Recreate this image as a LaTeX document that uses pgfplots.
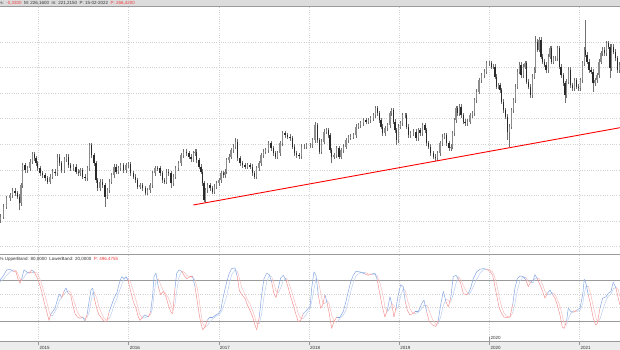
\documentclass[border=0pt]{standalone}
\usepackage{pgfplots}
\pgfplotsset{compat=1.18}
\usepackage{pgfplotstable}
\usepackage{fontspec}
\setmainfont{Liberation Sans}
\definecolor{wick}{HTML}{707070}
\definecolor{upbody}{HTML}{8C8C8C}
\definecolor{dnbody}{HTML}{2A2A2A}
\definecolor{sepgray}{HTML}{9A9A9A}
\definecolor{gridc}{HTML}{D2D2D2}
\definecolor{hdrbg}{HTML}{DCDCDC}
\definecolor{stripbg}{HTML}{EDEDED}
\definecolor{hdrtxt}{HTML}{333333}
\definecolor{txtred}{HTML}{F03C3C}
\definecolor{stred}{HTML}{F59494}
\definecolor{stblue}{HTML}{86A6E2}
\definecolor{stredl}{HTML}{F8C0C0}
\definecolor{stbluel}{HTML}{BCCFF0}

\pgfplotstableread{
x o h l c
0 80 85.8 77.5 83.3
3.3 83.3 95.8 80.8 93.3
6.7 93.3 104.5 90.8 102
10 102 107.5 99.5 105
12.7 105 111.8 102.5 109.3
15 109.3 111.8 104.2 106.7
17.3 106.7 109.2 100.8 103.3
19.3 103.3 105.8 90 97
21 97 117.5 94.5 115
22.7 115 137.5 112.5 135
25 135 137.5 127.5 130
27.3 130 134.5 127.5 132
30 132 140.8 129.5 138.3
32.3 138.3 148.5 135.8 146
34.3 146 148.5 139.5 142
36 142 144.5 134.2 136.7
37.7 136.7 139.2 129.5 132
40 132 134.5 124.5 127
42.7 127 129.5 122.5 125
45 125 127.5 119.5 122
47.3 122 124.5 115.8 118.3
50 118.3 125.8 115.8 123.3
52.7 123.3 130.8 120.8 128.3
55 128.3 130.8 124.2 126.7
57.3 126.7 145.8 124.2 143.3
59.3 143.3 145.8 134.5 137
61.7 137 139.5 127.5 130
64.3 130 143.5 127.5 141
66.7 141 145.8 138.5 143.3
68.3 143.3 145.8 132.5 135
70.7 135 137.5 129.5 132
73.3 132 135.8 129.5 133.3
76 133.3 135.8 125.8 128.3
78.3 128.3 130.8 124.2 126.7
80 126.7 132.5 124.2 130
82.7 130 132.5 120.8 123.3
85 123.3 125.8 119.5 122
87.3 122 134.5 119.5 132
89.3 132 157 129.5 155
91.7 155 157.5 142.5 145
94 145 147.5 134.5 137
96 137 139.5 117.5 120
97.7 120 122.5 109.5 112
100 112 120.8 109.5 118.3
102.7 118.3 120.8 112.5 115
105 115 117.5 93.3 103.3
107.3 103.3 112.5 100.8 110
109.3 110 120.8 107.5 118.3
111.7 118.3 127.5 115.8 125
114 125 135.8 122.5 133.3
116 133.3 135.8 125.8 128.3
118.3 128.3 134.5 125.8 132
120.7 132 137.5 129.5 135
123.3 135 137.5 127.5 130
126 130 137.5 127.5 135
128.3 135 138.5 132.5 136
130.7 136 138.5 124.5 127
133.3 127 129.5 120.8 123.3
135.7 123.3 125.8 117.5 120
137.3 120 122.5 110.8 113.3
140 113.3 117.5 110.8 115
142.7 115 117.5 109.5 112
145.3 112 114.5 104.8 107.3
147.3 107.3 112.5 104.8 110
150 110 117.5 107.5 115
152.7 115 129.5 112.5 127
155 127 134.5 124.5 132
157.7 132 134.5 129.2 131.7
160 131.7 134.2 124.5 127
162.3 127 129.5 117.5 120
164.3 120 122.5 115.8 118.3
166.7 118.3 130.8 115.8 128.3
168.3 128.3 130.8 124.2 126.7
171 126.7 129.2 112 116.7
173.3 116.7 125.8 114.2 123.3
175.7 123.3 134.2 120.8 131.7
178.3 131.7 139.2 129.2 136.7
181 136.7 147.5 134.2 145
183.3 145 150.8 142.5 148.3
186.7 148.3 150.8 144.2 146.7
189 146.7 149.2 140.8 143.3
191 143.3 145.8 138.2 140.7
193.3 140.7 149.2 138.2 146.7
195 146.7 150.8 144.2 148.3
196.7 148.3 150.8 137.5 140
199 140 142.5 130.8 133.3
201 133.3 135.8 125.8 128.3
202.3 128.3 130.8 114.2 116.7
204 116.7 119.2 98.3 100
205.7 100 112.5 97.5 110
207.7 110 117.5 107.5 115
210 115 117.5 109.2 111.7
212.3 111.7 114.2 105.8 108.3
214.3 108.3 115.8 105.8 113.3
216.7 113.3 119.2 110.8 116.7
219 116.7 122.5 114.2 120
221 120 129.2 117.5 126.7
223.3 126.7 129.2 122.5 125
225 125 130.8 122.5 128.3
226.7 128.3 142.5 125.8 140
229 140 145.8 137.5 143.3
231 143.3 152.5 140.8 150
233.3 150 155.8 147.5 153.3
235.7 153.3 161.7 150.8 158.3
237.7 158.3 160.8 139.2 141.7
240 141.7 144.2 134.2 136.7
242.3 136.7 139.2 132.5 135
245 135 137.5 130.8 133.3
247.3 133.3 137.5 130.8 135
250 135 137.5 130.8 133.3
252.3 133.3 135.8 124.2 126.7
254.3 126.7 129.2 120.8 123.3
256.7 123.3 134.2 120.8 131.7
259 131.7 139.2 129.2 136.7
261 136.7 147.5 134.2 145
263.3 145 150.8 142.5 148.3
265.7 148.3 152.5 145.8 150
268.3 150 159.2 147.5 156.7
271 156.7 159.2 149.2 151.7
273.3 151.7 154.2 144.2 146.7
275.7 146.7 149.2 140.8 143.3
277.7 143.3 149.2 140.8 146.7
280 146.7 159.2 144.2 156.7
282.3 156.7 169.2 154.2 166.7
285 166.7 169.2 162.5 165
287.7 165 167.5 160.8 163.3
290 163.3 165.8 159.2 161.7
292.3 161.7 164.2 150.8 153.3
294.3 153.3 155.8 144.2 146.7
296.7 146.7 149.2 142.5 145
299 145 147.5 141.5 144
301.7 144 155.8 141.5 153.3
304 153.3 155.8 150.8 153.3
306.7 153.3 157.5 150.8 155
310 155 157.5 152.5 155
312.7 155 162.5 152.5 160
315 160 178.3 157.5 175
317.3 175 177.5 157.5 160
319.3 160 162.5 145.8 148.3
321.7 148.3 160.8 145.8 158.3
324 158.3 170.8 155.8 168.3
326.7 168.3 172.5 165.8 170
328.3 170 172.5 162.5 165
330 165 167.5 147.5 150
331.7 150 152.5 136.7 143.3
334 143.3 147.5 140.8 145
336.7 145 154.2 142.5 151.7
339 151.7 154.2 140.8 143.3
341 143.3 152.5 140.8 150
343.3 150 155.8 147.5 153.3
346 153.3 162.5 150.8 160
348.3 160 165.2 157.5 162.7
350.7 162.7 165.8 160.2 163.3
353.3 163.3 167.5 160.8 165
356 165 175.8 162.5 173.3
358.3 173.3 177.5 170.8 175
360.7 175 179.2 172.5 176.7
363.3 176.7 182.5 174.2 180
366 180 182.5 175.8 178.3
368.3 178.3 182.5 175.8 180
370.7 180 184.2 177.5 181.7
373.3 181.7 187.5 179.2 185
375.7 185 194.2 182.5 191.7
377.7 191.7 194.2 184.2 186.7
379.3 186.7 189.2 177.5 180
381 180 182.5 170.8 173.3
382.7 173.3 175.8 164.2 166.7
385 166.7 174.2 164.2 171.7
387.3 171.7 177.5 169.2 175
390 175 189.2 172.5 186.7
391.7 186.7 192.5 184.2 190
393.3 190 192.5 175.8 178.3
395 178.3 180.8 167.5 170
396.7 170 172.5 155 160
398.3 160 175.8 157.5 173.3
400.7 173.3 179.2 170.8 176.7
402.7 176.7 187.5 174.2 185
405 185 187.5 182.5 185
406.7 185 187.5 170.8 173.3
408.3 173.3 175.8 162.5 165
410.7 165 169.2 162.5 166.7
413.3 166.7 170.8 164.2 168.3
416 168.3 170.8 159.2 161.7
418.3 161.7 172.5 159.2 170
420 170 172.5 164.2 166.7
422.7 166.7 177.5 164.2 175
425 175 177.5 167.5 170
426.7 170 172.5 154.2 156.7
428.3 156.7 159.2 150.8 153.3
430.7 153.3 155.8 144.2 146.7
433.3 146.7 149.2 140.8 143.3
435.7 143.3 145.8 139.2 141.7
437.7 141.7 149.2 139.2 146.7
440 146.7 159.2 144.2 156.7
442.3 156.7 165.8 154.2 163.3
444.3 163.3 167.5 160.8 165
446.7 165 167.5 154.2 156.7
449 156.7 159.2 149.2 151.7
451 151.7 155.8 149.2 153.3
452.7 153.3 169.2 150.8 166.7
454.3 166.7 182.5 164.2 180
456 180 194.2 177.5 191.7
457.7 191.7 194.2 184.2 186.7
459.3 186.7 195.8 184.2 193.3
461 193.3 195.8 182.5 185
463.3 185 187.5 175.8 178.3
465 178.3 180.8 174.2 176.7
467.7 176.7 180.8 174.2 178.3
470 178.3 187.5 175.8 185
472.3 185 189.2 182.5 186.7
474.3 186.7 202.5 184.2 200
476.7 200 210.8 197.5 208.3
479 208.3 222.5 205.8 220
481.7 220 227.5 217.5 225
484.3 225 230.8 222.5 228.3
486.7 228.3 239.2 225.8 236.7
489 236.7 239.2 234.2 236.7
491.7 236.7 239.2 230.8 233.3
493.3 233.3 235.8 230.8 233.3
495 233.3 235.8 220.8 223.3
496.7 223.3 225.8 210.8 213.3
498.3 213.3 217.5 210.8 215
500 215 217.5 207.5 210
501.7 210 212.5 195.8 198.3
503.7 198.3 200.8 187.5 190
505.7 190 192.5 180.8 183.3
507.7 183.3 185.8 160 168.3
509.7 168.3 175.8 153.3 173.3
511.7 173.3 192.5 170.8 190
513.7 190 202.5 187.5 200
515.7 200 215.8 197.5 213.3
517.7 213.3 230.8 210.8 228.3
519.3 228.3 237.5 225.8 235
521 235 237.5 222.5 225
523.3 225 235.8 222.5 233.3
525 233.3 239.2 230.8 236.7
526.7 236.7 239.2 215.8 218.3
528.3 218.3 220.8 210.8 213.3
530.3 213.3 215.8 202.5 205
532.3 205 225.8 202.5 223.3
534.3 223.3 232.5 220.8 230
535.7 230 264 227.5 258.3
537.7 258.3 260.8 247.5 250
539 250 262.5 247.5 260
541 260 262.5 240.8 243.3
542.7 243.3 245.8 235.8 238.3
544.3 238.3 240.8 232.5 235
546 235 237.5 227.5 230
548.3 230 245.8 227.5 243.3
550 243.3 254.2 240.8 251.7
551.7 251.7 254.2 235.8 238.3
553.7 238.3 244.2 235.8 241.7
555.7 241.7 244.2 239.2 241.7
557.7 241.7 254.2 239.2 251.7
559.3 251.7 254.2 230.8 233.3
561 233.3 235.8 222.5 225
563.3 225 227.5 214.2 216.7
565 216.7 219.2 197 205
566.7 205 220.8 202.5 218.3
568.3 218.3 232.5 215.8 230
570.3 230 232.5 212.5 215
572.3 215 217.5 209.2 211.7
574.3 211.7 222.5 209.2 220
576.3 220 222.5 210.8 213.3
578.3 213.3 215.8 209.2 211.7
580.3 211.7 222.5 209.2 220
582.3 220 239.2 217.5 236.7
584.3 236.7 252.5 234.2 250
585.7 250 280 242.5 245
587 245 247.5 235.8 238.3
589 238.3 240.8 227.5 230
591 230 232.5 225.8 228.3
593 228.3 230.8 208.3 216.7
595 216.7 222.5 214.2 220
597 220 227.5 217.5 225
599 225 240.8 222.5 238.3
601 238.3 249.2 235.8 246.7
602.7 246.7 252.5 244.2 250
604.3 250 252.5 244.2 246.7
606.3 246.7 259.2 244.2 256.7
608.3 256.7 259.2 250.8 253.3
610 253.3 255.8 222 231.7
611.7 231.7 255.8 229.2 253.3
613.7 253.3 255.8 245.8 248.3
615.7 248.3 250.8 239.2 241.7
617.7 241.7 244.2 227.5 230
619.3 230 237.5 227.5 235
}\price

\pgfplotstableread{
x k d
0 81 78
3.3 87 82
6.7 96 88
10 97 93
13.3 94 96
16 93 95
18.3 81 89
20 76 83
21.7 83 80
24 96 85
26.7 93 91
29.3 91 93
31.7 96 93
34 93 93
36.7 86 92
39.3 76 85
41.7 64 75
44 49 63
46.7 34 49
49 21 35
50.7 30 28
52.7 34 28
55 39 34
57.3 51 41
59.3 60 50
61.7 55 55
64 64 60
66 69 63
68.3 61 65
70.7 59 63
72.7 44 55
75 31 45
77.3 26 34
80 24 27
82.7 26 25
85 20 23
87.3 31 26
89.3 51 34
91 66 49
92.7 69 62
94.3 54 63
96.7 39 54
99 29 41
101.7 24 31
104 20 24
106.7 19 21
109.3 34 24
111.7 44 32
114 54 44
116.7 61 53
119.3 76 64
121.7 86 74
124 83 82
126 86 85
128 81 83
130.7 64 77
133.3 49 65
136 39 51
138.3 26 38
140 21 29
142.7 26 24
145 29 25
148.3 26 27
150.7 34 30
152.7 59 40
154 86 60
156 91 79
158.3 71 83
160.7 59 74
163.3 64 65
166 56 60
168.3 44 55
170.7 34 45
172.7 31 36
175 69 45
176.7 91 64
179 96 85
181.7 94 94
184 88 93
186.7 83 88
190 86 86
192.7 86 85
195 71 81
197.3 49 69
199.3 29 50
201 16 31
202.7 7 17
205 11 11
207.3 21 13
210 26 19
213.3 26 24
216 29 27
218.3 31 29
220.7 36 32
223.3 56 41
226.7 78 57
229.3 91 75
231.7 98 89
235 99 96
237.3 86 94
239.3 66 84
241.7 59 70
245 54 60
247.3 44 52
250 36 45
252.7 26 35
255 14 25
256.7 7 16
259.3 26 16
261.7 59 31
264 83 56
266.7 91 78
269.3 89 88
271.7 78 86
274 61 76
276 55 65
278.3 69 62
280.7 84 69
283.3 88 80
286 81 84
288.3 69 79
290.7 56 69
293.3 44 56
295.7 31 44
298.3 19 31
300.7 21 24
303.3 31 24
306 35 29
308.3 39 35
310 40 38
311.7 69 49
314 93 67
316 88 83
318.3 59 80
320.7 39 62
322.7 44 47
325 59 47
327.3 46 50
329.3 31 45
331.7 9 29
334 19 20
336.7 26 18
340 26 24
343.3 34 29
346 49 36
348.3 64 49
350.7 78 64
353.3 88 77
356 94 87
360 93 92
365 90 92
368.3 88 90
371.7 90 89
375 91 90
377.3 81 87
380 59 77
382.7 39 60
385 26 41
387.3 36 34
390 56 39
391.7 46 46
394 26 43
396 39 37
398.3 59 41
400.7 74 57
403.3 71 68
405.3 49 65
407.3 36 52
410 29 38
412.7 31 32
415.3 34 31
418.3 34 33
421.7 46 38
424 51 44
426.7 34 44
429.3 19 35
432.7 14 22
436 12 15
438.3 21 16
440.7 44 26
443.3 64 43
446 49 52
448.3 41 51
450.7 54 48
453.3 86 60
456 88 76
458.3 83 86
460.7 76 82
463.3 61 73
466 59 65
468.3 61 60
470.7 69 63
473.3 83 71
476.7 93 82
480 97 91
483.3 98 96
486.7 97 97
490 94 96
492.7 88 93
495 71 84
497.3 54 71
499.3 39 55
501.7 31 41
504 26 32
506.7 25 27
510 26 26
512.7 44 32
515 69 46
517.3 83 65
520 87 80
523.3 86 85
526 81 85
528.3 71 79
530.7 78 77
533.3 81 77
535 89 83
537.3 83 84
540 74 82
542.7 64 74
545 54 64
547.3 61 60
550 66 60
552.7 59 62
555 54 60
557.3 44 52
560 29 42
562.3 11 28
564.3 9 16
566.7 21 14
568.3 39 23
570.7 34 31
573.3 33 35
576.7 36 34
580 39 36
582.7 59 45
584.3 82 60
586 76 72
588.3 59 72
590.7 44 60
593.3 24 42
595.7 14 27
597.3 16 18
600 39 23
602.7 54 36
606 56 50
608.3 61 57
611 64 60
613.3 78 68
616 69 70
618.3 54 67
620 44 56
}\stoch

\begin{document}
\begin{tikzpicture}
\path[use as bounding box, fill=white] (0pt,0pt) rectangle (620pt,-350pt);
\fill[hdrbg] (0pt,0pt) rectangle (620pt,-6.5pt);
\draw[sepgray, line width=0.8pt] (0pt,-6.9pt) -- (620pt,-6.9pt);
\fill[stripbg] (0pt,-341pt) rectangle (620pt,-350pt);

% ---------- price panel ----------
\begin{axis}[at={(0pt,-7pt)}, anchor=north west, scale only axis,
  width=620pt, height=247pt,
  xmin=2014.574, xmax=2021.448, ymin=46, ymax=293,
  xtick={2015,...,2021},
  ytick={53.5,79.1,104.7,130.3,155.9,181.5,207.1,232.7,258.3},
  xticklabels={}, yticklabels={}, major tick length=0pt,
  grid=major, grid style={gridc, line width=0.3pt, dash pattern=on 0.5pt off 1.8pt},
  axis line style={draw=none}]
% wicks
\addplot[draw=none, mark=none, forget plot,
  error bars/.cd, y dir=plus, y explicit, error mark=none,
  error bar style={line width=0.5pt, draw=wick, solid}]
  table[x expr=2014.574+\thisrow{x}/90.2, y=l,
        y error plus expr=\thisrow{h}-\thisrow{l}] {\price};
% up bodies
\addplot[draw=none, mark=none, forget plot, unbounded coords=discard,
  error bars/.cd, y dir=plus, y explicit, error mark=none,
  error bar style={line width=1.5pt, draw=upbody, solid}]
  table[x expr=2014.574+\thisrow{x}/90.2,
        y expr={\thisrow{c}<\thisrow{o} ? nan : \thisrow{o}},
        y error plus expr=\thisrow{c}-\thisrow{o}] {\price};
% down bodies
\addplot[draw=none, mark=none, forget plot, unbounded coords=discard,
  error bars/.cd, y dir=plus, y explicit, error mark=none,
  error bar style={line width=1.5pt, draw=dnbody, solid}]
  table[x expr=2014.574+\thisrow{x}/90.2,
        y expr={\thisrow{c}<\thisrow{o} ? \thisrow{c} : nan},
        y error plus expr=\thisrow{o}-\thisrow{c}] {\price};
% trend line
\addplot[red, line width=0.9pt, forget plot]
  table[x expr=2014.574+\thisrow{x}/90.2, y=y] {
x y
193.3 95
620 172.3
};
\end{axis}

\draw[sepgray, line width=0.8pt] (0pt,-254pt) -- (620pt,-254pt);

% ---------- stochastic panel ----------
\begin{axis}[at={(0pt,-254pt)}, anchor=north west, scale only axis,
  width=620pt, height=87pt,
  xmin=2014.574, xmax=2021.448, ymin=-9.8, ymax=119.7,
  xtick={2015,...,2021}, ytick={40,60}, yticklabels={},
  xticklabels={2015,2016,2017,2018,2019,2020,2021},
  xticklabel style={anchor=west, inner sep=0pt, xshift=1pt, yshift=-3pt,
     font=\fontsize{4.5}{5}\selectfont, text=hdrtxt},
  xtick pos=bottom, tick align=outside, major tick length=3.5pt,
  x tick style={draw=sepgray, line width=0.5pt}, y tick style={draw=none},
  grid=major, grid style={gridc, line width=0.3pt, dash pattern=on 0.5pt off 1.8pt},
  axis line style={draw=none}]
\addplot[sepgray, line width=0.8pt, forget plot] coordinates {(2014.5,80) (2021.5,80)};
\addplot[sepgray, line width=0.8pt, forget plot] coordinates {(2014.5,20) (2021.5,20)};
\addplot[mesh, shader=flat corner, line width=0.5pt, forget plot,
  point meta={\thisrow{k}>\thisrow{d}}, point meta min=0, point meta max=1,
  colormap={kdl}{color=(stredl) color=(stbluel)}]
  table[x expr=2014.574+\thisrow{x}/90.2, y=d] {\stoch};
\addplot[mesh, shader=flat corner, line width=0.5pt, forget plot,
  point meta={\thisrow{k}>\thisrow{d}}, point meta min=0, point meta max=1,
  colormap={kd}{color=(stred) color=(stblue)}]
  table[x expr=2014.574+\thisrow{x}/90.2, y=k] {\stoch};
\end{axis}

\draw[sepgray, line width=0.8pt] (0pt,-341pt) -- (620pt,-341pt);
\draw[sepgray, line width=0.5pt] (489.4pt,-341pt) -- (489.4pt,-336.5pt);
\node[anchor=west, inner sep=0pt, font=\fontsize{4.5}{5}\selectfont, text=hdrtxt] at (490.4pt,-337.8pt) {2020};

% ---------- header texts ----------
\node[anchor=west, inner sep=0pt, font=\fontsize{4.5}{5}\selectfont, text=hdrtxt] at (-1.5pt,-3.2pt)
  {\%:\ \ \textcolor{txtred}{-0,3300}\ \ M: 226,1600\ \ m: 221,2150\ \ P: 15-02-2022\ \ \textcolor{txtred}{P: 266,4200}};
\node[anchor=west, inner sep=0pt, font=\fontsize{4.5}{5}\selectfont, text=hdrtxt] at (-0.5pt,-259.8pt)
  {\% UpperBand: 80,0000\ \ LowerBand: 20,0000\ \ \textcolor{txtred}{P: 496,4755}};
\end{tikzpicture}
\end{document}
